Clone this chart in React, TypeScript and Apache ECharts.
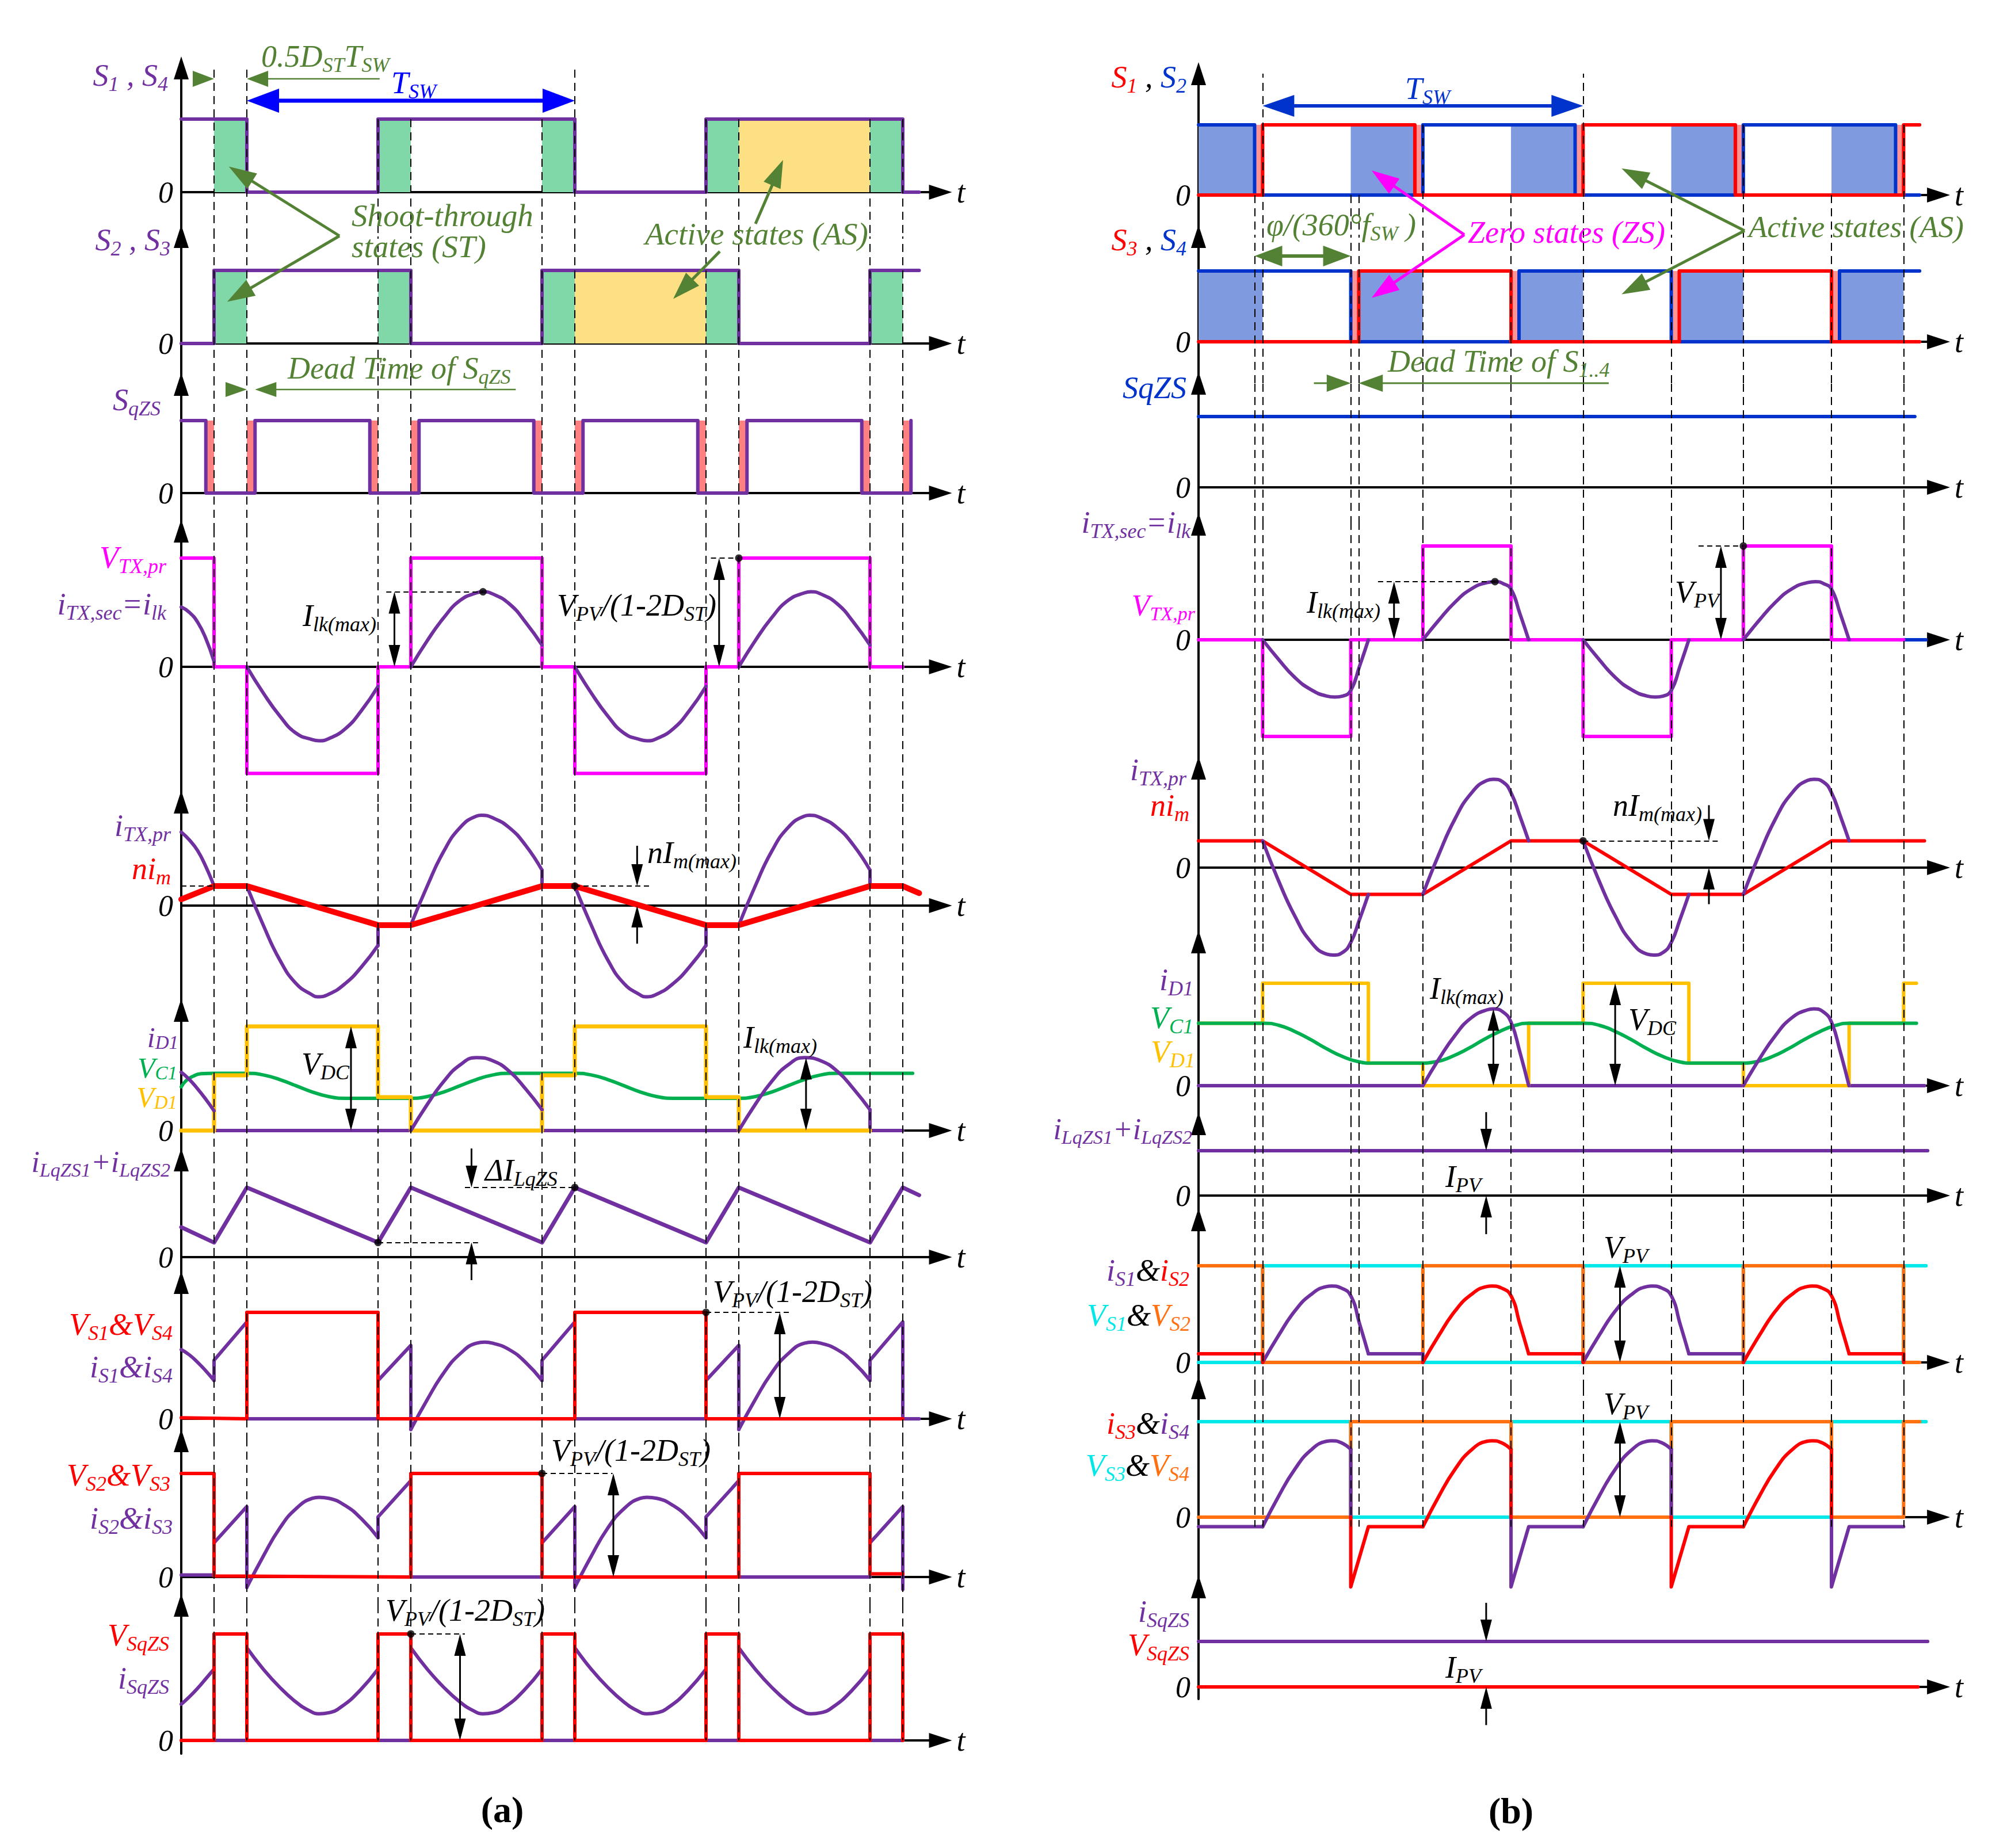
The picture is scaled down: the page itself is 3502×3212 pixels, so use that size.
import React, { useEffect, useRef } from 'react';
import * as echarts from 'echarts';

const FONT = "'Liberation Serif', 'DejaVu Serif', serif";
const PU = '#7030a0', MG = '#ff00ff', RD = '#ff0000', GN = '#00b050', YL = '#ffc000', OL = '#548235';
const BA = '#0000ff', BB = '#0033cc', CY = '#00e8e8', OR = '#ff7010', BK = '#000000';
const ST_FILL = '#80d8a8', AS_FILL = '#fde083', DT_FILL = '#ff8080', ZS_FILL = '#809ae0', DT_FILL_B = '#ff9494';

// ---------- layout (pixels) ----------
const LA = { x0: 315, unit: 28.5, xmax: 46.3, tips: [98, 391, 648, 903, 1374, 1736, 1996, 2209, 2484, 2770], zeros: [334, 597, 857, 1159, 1574, 1965, 2185, 2466, 2741, 3025], units: [127, 127, 126, 189, 154, 181, 121, 185, 180, 185], bottom: 3048 };
const LB = { x0: 2083, unit: 27.85, xmax: 46.18, tips: [108, 391, 646, 891, 1315, 1617, 1933, 2100, 2392, 2738], zeros: [339, 594, 847, 1112, 1508, 1887, 2078, 2368, 2637, 2932], units: [122, 123, 123, 163, 155, 178, 78, 168, 166, 79], bottom: 2953 };

// ---------- panel (a) data ----------
const A_VLINES = [2, 4, 12, 14, 22, 24, 32, 34, 42, 44];
const A_VLINES_TOP = [2, 4, 24];
const A_ST = [[2, 4], [12, 14], [22, 24], [32, 34], [42, 44]];
const A_AS1 = [[34, 42]];
const A_AS2 = [[24, 32]];
const A_DEAD = [[1.55, 2], [4, 4.45], [11.55, 12], [14, 14.45], [21.55, 22], [24, 24.45], [31.55, 32], [34, 34.45], [41.55, 42], [44, 44.45]];

const A_S14 = [[0, 1], [4, 1], [4, 0], [12, 0], [12, 1], [24, 1], [24, 0], [32, 0], [32, 1], [44, 1], [44, 0], [45, 0]];
const A_S23 = [[0, 0], [2, 0], [2, 1], [14, 1], [14, 0], [22, 0], [22, 1], [34, 1], [34, 0], [42, 0], [42, 1], [45, 1]];
const A_SQZS = [[0, 1], [1.5, 1], [1.5, 0], [4.5, 0], [4.5, 1], [11.5, 1], [11.5, 0], [14.5, 0], [14.5, 1], [21.5, 1], [21.5, 0], [24.5, 0], [24.5, 1], [31.5, 1], [31.5, 0], [34.5, 0], [34.5, 1], [41.5, 1], [41.5, 0], [44.5, 0], [44.5, 1]];

const A_VTX = [[0, 1], [2, 1], [2, 0], [4, 0], [4, -0.98], [12, -0.98], [12, 0], [14, 0], [14, 1], [22, 1], [22, 0], [24, 0], [24, -0.98], [32, -0.98], [32, 0], [34, 0], [34, 1], [42, 1], [42, 0], [44, 0]];
const A_ITXSEC_STEPS = [[[12, -0.18], [12, 0], [14, 0]], [[22, 0.2], [22, 0], [24, 0]], [[32, -0.18], [32, 0], [34, 0]], [[42, 0.2], [42, 0], [44, 0]]];
const A_ITXSEC_ARCS = [
  [[0, 0.55], [0.5, 0.5], [1, 0.41], [1.5, 0.26], [2, 0.05]],
  [[4, 0], [5, -0.24], [6, -0.45], [7, -0.61], [8, -0.67], [8.4, -0.68], [9, -0.66], [10, -0.57], [11, -0.4], [12, -0.18]],
  [[14, 0], [15, 0.24], [16, 0.45], [17, 0.61], [18, 0.68], [18.4, 0.69], [19, 0.67], [20, 0.58], [21, 0.41], [22, 0.2]],
  [[24, 0], [25, -0.24], [26, -0.45], [27, -0.61], [28, -0.67], [28.4, -0.68], [29, -0.66], [30, -0.57], [31, -0.4], [32, -0.18]],
  [[34, 0], [35, 0.24], [36, 0.45], [37, 0.61], [38, 0.68], [38.4, 0.69], [39, 0.67], [40, 0.58], [41, 0.41], [42, 0.2]],
];

const A_NIM = [[0, 0.07], [2, 0.22], [4, 0.22], [12, -0.22], [14, -0.22], [22, 0.22], [24, 0.22], [32, -0.22], [34, -0.22], [42, 0.22], [44, 0.22], [45, 0.14]];
const A_ITXPR_STEPS = [[[12, -0.45], [12, -0.22]], [[22, 0.4], [22, 0.22]], [[32, -0.45], [32, -0.22]], [[42, 0.4], [42, 0.22]]];
const A_ITXPR_ARCS = [
  [[0, 0.83], [0.5, 0.74], [1, 0.62], [1.5, 0.44], [2, 0.22]],
  [[4, 0.22], [5, -0.22], [6, -0.61], [7, -0.88], [8, -1.01], [8.3, -1.03], [9, -1.0], [10, -0.88], [11, -0.69], [12, -0.45]],
  [[14, -0.22], [15, 0.22], [16, 0.61], [17, 0.88], [18, 1.01], [18.3, 1.02], [19, 0.99], [20, 0.88], [21, 0.68], [22, 0.4]],
  [[24, 0.22], [25, -0.22], [26, -0.61], [27, -0.88], [28, -1.01], [28.3, -1.03], [29, -1.0], [30, -0.88], [31, -0.69], [32, -0.45]],
  [[34, -0.22], [35, 0.22], [36, 0.61], [37, 0.88], [38, 1.01], [38.3, 1.02], [39, 0.99], [40, 0.88], [41, 0.68], [42, 0.4]],
];

const A_VD1 = [[0, 0], [2, 0], [2, 0.53], [4, 0.53], [4, 1], [12, 1], [12, 0.32], [14, 0.32], [14, 0], [22, 0], [22, 0.53], [24, 0.53], [24, 1], [32, 1], [32, 0.32], [34, 0.32], [34, 0], [42, 0]];
const A_VC1 = [[0, 0.42], [0.3, 0.48], [0.7, 0.52], [1.2, 0.545], [2, 0.55], [4, 0.55], [5, 0.534], [6, 0.49], [7, 0.43], [8, 0.37], [9, 0.326], [10, 0.31], [14, 0.31], [15, 0.326], [16, 0.37], [17, 0.43], [18, 0.49], [19, 0.534], [20, 0.55], [24, 0.55], [25, 0.534], [26, 0.49], [27, 0.43], [28, 0.37], [29, 0.326], [30, 0.31], [34, 0.31], [35, 0.326], [36, 0.37], [37, 0.43], [38, 0.49], [39, 0.534], [40, 0.55], [44.6, 0.55]];
const A_ID1_STEPS = [[[2, 0.19], [2, 0], [14, 0]], [[22, 0.2], [22, 0], [34, 0]], [[42, 0.2], [42, 0], [44, 0]]];
const A_ID1_ARCS = [
  [[0, 0.56], [0.5, 0.49], [1, 0.4], [1.5, 0.3], [2, 0.19]],
  [[14, 0], [15, 0.25], [16, 0.47], [17, 0.63], [18, 0.7], [19, 0.67], [20, 0.57], [21, 0.4], [22, 0.2]],
  [[34, 0], [35, 0.25], [36, 0.47], [37, 0.63], [38, 0.7], [39, 0.67], [40, 0.57], [41, 0.4], [42, 0.2]],
];

const A_ILQZS = [[0, 0.43], [2, 0.21], [4, 1], [12, 0.21], [14, 1], [22, 0.21], [24, 1], [32, 0.21], [34, 1], [42, 0.21], [44, 1], [45, 0.89]];

const A_VS14 = [[0, 0.01], [4, 0], [4, 1], [12, 1], [12, 0], [24, 0], [24, 1], [32, 1], [32, 0], [44, 0]];
const A_IS14_STEPS = [
  [[2, 0.36], [2, 0.55], [4, 0.91], [4, 0], [12, 0], [12, 0.36], [14, 0.69], [14, -0.1]],
  [[22, 0.36], [22, 0.55], [24, 0.91], [24, 0], [32, 0], [32, 0.36], [34, 0.69], [34, -0.1]],
  [[42, 0.36], [42, 0.55], [44, 0.91], [44, 0], [45, 0]],
];
const A_IS14_ARCS = [
  [[0, 0.65], [0.5, 0.6], [1, 0.53], [1.5, 0.45], [2, 0.36]],
  [[14, -0.1], [15, 0.18], [16, 0.43], [17, 0.61], [18, 0.71], [18.5, 0.72], [19, 0.71], [20, 0.65], [21, 0.53], [22, 0.36]],
  [[34, -0.1], [35, 0.18], [36, 0.43], [37, 0.61], [38, 0.71], [38.5, 0.72], [39, 0.71], [40, 0.65], [41, 0.53], [42, 0.36]],
];

const A_VS23 = [[0, 1], [2, 1], [2, 0.01], [14, 0], [14, 1], [22, 1], [22, 0], [34, 0], [34, 1], [42, 1], [42, 0.03], [44, 0.03]];
const A_IS23_STEPS = [
  [[0, 0.02], [2, 0.02], [2, 0.33], [4, 0.68], [4, -0.1]],
  [[12, 0.38], [12, 0.58], [14, 0.93], [14, 0], [22, 0], [22, 0.33], [24, 0.68], [24, -0.1]],
  [[32, 0.38], [32, 0.58], [34, 0.93], [34, 0], [42, 0], [42, 0.33], [44, 0.68], [44, -0.12]],
];
const A_IS23_ARCS = [
  [[4, -0.1], [5, 0.2], [6, 0.47], [7, 0.66], [8, 0.76], [8.4, 0.77], [9, 0.76], [10, 0.69], [11, 0.56], [12, 0.38]],
  [[24, -0.1], [25, 0.2], [26, 0.47], [27, 0.66], [28, 0.76], [28.4, 0.77], [29, 0.76], [30, 0.69], [31, 0.56], [32, 0.38]],
];

const A_VSQZS = [[0, 0], [2, 0], [2, 1], [4, 1], [4, 0], [12, 0], [12, 1], [14, 1], [14, 0], [22, 0], [22, 1], [24, 1], [24, 0], [32, 0], [32, 1], [34, 1], [34, 0], [42, 0], [42, 1], [44, 1], [44, 0]];
const A_ISQZS_STEPS = [[[2, 0.67], [2, 0], [4, 0], [4, 0.87]], [[12, 0.67], [12, 0], [14, 0], [14, 0.87]], [[22, 0.67], [22, 0], [24, 0], [24, 0.87]], [[32, 0.67], [32, 0], [34, 0], [34, 0.87]], [[42, 0.67], [42, 0], [44, 0], [44, 0.87]]];
const A_ISQZS_ARCS = [
  [[0, 0.34], [0.5, 0.41], [1, 0.49], [1.5, 0.58], [2, 0.67]],
  [[4, 0.87], [5, 0.67], [6, 0.5], [7, 0.36], [7.8, 0.28], [8.4, 0.25], [9, 0.26], [9.8, 0.32], [10.9, 0.47], [12, 0.67]],
  [[14, 0.87], [15, 0.67], [16, 0.5], [17, 0.36], [17.8, 0.28], [18.4, 0.25], [19, 0.26], [19.8, 0.32], [20.9, 0.47], [22, 0.67]],
  [[24, 0.87], [25, 0.67], [26, 0.5], [27, 0.36], [27.8, 0.28], [28.4, 0.25], [29, 0.26], [29.8, 0.32], [30.9, 0.47], [32, 0.67]],
  [[34, 0.87], [35, 0.67], [36, 0.5], [37, 0.36], [37.8, 0.28], [38.4, 0.25], [39, 0.26], [39.8, 0.32], [40.9, 0.47], [42, 0.67]],
];

// annotations (a): [row, t, v] / [row, t1, t2, v] / [row, t, vFrom, vTo]
const A_DOTS = [[3, 18.4, 0.69], [3, 34, 1], [4, 24, 0.22], [6, 12, 0.21], [6, 24, 1], [7, 32, 1], [8, 22, 1], [9, 14, 1]];
const A_HDASH = [[3, 12.5, 18.4, 0.69], [3, 32.3, 34, 1], [4, 0, 2, 0.22], [4, 24, 28.6, 0.22], [6, 12, 18.1, 0.21], [6, 17.3, 24, 1], [7, 32, 37.2, 1], [8, 22, 26.3, 1], [9, 14, 17.3, 1]];
const A_DARROWS = [[3, 13, 0, 0.69], [3, 32.8, 0, 1], [5, 10.35, 0, 1], [5, 38.1, 0, 0.7], [7, 36.5, 0, 1], [8, 26.35, 0, 1], [9, 17, 0, 1]];
const A_SARROWS = [[4, 27.8, 0.675, 0.22], [4, 27.8, -0.43, 0], [6, 17.7, 1.56, 1.0], [6, 17.7, -0.33, 0.21]];

// ---------- panel (b) data ----------
const B_VLINES = [3.5, 4, 9.5, 10, 14, 19.5, 24, 29.5, 34, 39.5, 44];
const B_VLINES_TOP = [4, 24];
const B_VLINES_HIGH = [14, 34, 44];
const B_ZS1 = [[0, 3.5], [9.5, 13.5], [19.5, 23.5], [29.5, 33.5], [39.5, 43.5]];
const B_DT1 = [[3.5, 4], [13.5, 14], [23.5, 24], [33.5, 34], [43.5, 44]];
const B_ZS2 = [[0, 4], [10, 14], [20, 24], [30, 34], [40, 44]];
const B_DT2 = [[9.5, 10], [19.5, 20], [29.5, 30], [39.5, 40]];

const B_S1 = [[0, 0], [4, 0], [4, 1], [13.5, 1], [13.5, 0], [24, 0], [24, 1], [33.5, 1], [33.5, 0], [44, 0], [44, 1], [45, 1]];
const B_S2 = [[0, 1], [3.5, 1], [3.5, 0], [14, 0], [14, 1], [23.5, 1], [23.5, 0], [34, 0], [34, 1], [43.5, 1], [43.5, 0], [45, 0]];
const B_S3 = [[0, 0], [10, 0], [10, 1], [19.5, 1], [19.5, 0], [30, 0], [30, 1], [39.5, 1], [39.5, 0], [45, 0]];
const B_S4 = [[0, 1], [9.5, 1], [9.5, 0], [20, 0], [20, 1], [29.5, 1], [29.5, 0], [40, 0], [40, 1], [45, 1]];
const B_SQZS = [[0, 1], [44.7, 1]];

const B_VTX = [[0, 0], [4, 0], [4, -1.03], [9.5, -1.03], [9.5, 0], [14, 0], [14, 1], [19.5, 1], [19.5, 0], [24, 0], [24, -1.03], [29.5, -1.03], [29.5, 0], [34, 0], [34, 1], [39.5, 1], [39.5, 0], [44, 0]];
const B_ITXSEC_ARCS = [
  [[4, 0], [5, -0.21], [6, -0.4], [7, -0.53], [8, -0.6], [8.5, -0.61], [9, -0.6], [9.5, -0.54], [10.05, -0.28], [10.6, 0]],
  [[14, 0], [15, 0.21], [16, 0.4], [17, 0.54], [18, 0.61], [18.5, 0.62], [19, 0.6], [19.5, 0.54], [20.05, 0.28], [20.6, 0]],
  [[24, 0], [25, -0.21], [26, -0.4], [27, -0.53], [28, -0.6], [28.5, -0.61], [29, -0.6], [29.5, -0.54], [30.05, -0.28], [30.6, 0]],
  [[34, 0], [35, 0.21], [36, 0.4], [37, 0.54], [38, 0.61], [38.5, 0.62], [39, 0.6], [39.5, 0.54], [40.05, 0.28], [40.6, 0]],
];
const B_ITXSEC_TAIL = [[40.6, 0], [45.4, 0]];

const B_NIM = [[0, 0.3], [4, 0.3], [9.5, -0.3], [14, -0.3], [19.5, 0.3], [24, 0.3], [29.5, -0.3], [34, -0.3], [39.5, 0.3], [45.3, 0.3]];
const B_ITXPR_ARCS = [
  [[4, 0.3], [5, -0.15], [6, -0.54], [7, -0.83], [8, -0.97], [8.4, -0.98], [9, -0.95], [9.5, -0.84], [10.05, -0.58], [10.6, -0.3]],
  [[14, -0.3], [15, 0.15], [16, 0.545], [17, 0.83], [18, 0.977], [18.4, 0.99], [19, 0.96], [19.5, 0.84], [20.05, 0.58], [20.6, 0.3]],
  [[24, 0.3], [25, -0.15], [26, -0.54], [27, -0.83], [28, -0.97], [28.4, -0.98], [29, -0.95], [29.5, -0.84], [30.05, -0.58], [30.6, -0.3]],
  [[34, -0.3], [35, 0.15], [36, 0.545], [37, 0.83], [38, 0.977], [38.4, 0.99], [39, 0.96], [39.5, 0.84], [40.05, 0.58], [40.6, 0.3]],
];

const B_VD1 = [[0, 0.61], [4, 0.61], [4, 1], [10.6, 1], [10.6, 0.22], [14, 0.22], [14, 0], [20.6, 0], [20.6, 0.61], [24, 0.61], [24, 1], [30.6, 1], [30.6, 0.22], [34, 0.22], [34, 0], [40.6, 0], [40.6, 0.61], [44, 0.61], [44, 1], [44.8, 1]];
const B_VC1 = [[0, 0.61], [4, 0.61], [5, 0.59], [6, 0.53], [7, 0.45], [8, 0.36], [9, 0.284], [10, 0.233], [10.8, 0.22], [13.8, 0.22], [14.8, 0.233], [15.8, 0.284], [16.8, 0.36], [17.8, 0.45], [18.8, 0.53], [19.8, 0.59], [20.6, 0.61], [24, 0.61], [25, 0.59], [26, 0.53], [27, 0.45], [28, 0.36], [29, 0.284], [30, 0.233], [30.8, 0.22], [33.8, 0.22], [34.8, 0.233], [35.8, 0.284], [36.8, 0.36], [37.8, 0.45], [38.8, 0.53], [39.8, 0.59], [40.6, 0.61], [44.8, 0.61]];
const B_ID1_STEPS = [[[0, 0], [14, 0]], [[20.6, 0], [34, 0]], [[40.6, 0], [45.3, 0]]];
const B_ID1_ARCS = [
  [[14, 0], [15, 0.26], [16, 0.49], [17, 0.66], [18, 0.74], [18.4, 0.75], [19, 0.72], [19.5, 0.62], [20.05, 0.33], [20.6, 0]],
  [[34, 0], [35, 0.26], [36, 0.49], [37, 0.66], [38, 0.74], [38.4, 0.75], [39, 0.72], [39.5, 0.62], [40.05, 0.33], [40.6, 0]],
];

const B_ILQZS = [[0, 1], [45.5, 1]];

const B_VS1 = [[0, 0], [4, 0], [4, 1], [14, 1], [14, 0], [24, 0], [24, 1], [34, 1], [34, 0], [44, 0], [44, 1], [45.4, 1]];
const B_VS2 = [[0, 1], [4, 1], [4, 0], [14, 0], [14, 1], [24, 1], [24, 0], [34, 0], [34, 1], [44, 1], [44, 0], [45, 0]];
const B_IS1_STEPS = [[[10.6, 0.09], [14, 0.09], [14, 0]], [[30.6, 0.09], [34, 0.09], [34, 0]]];
const B_IS1_ARCS = [
  [[4, 0], [5, 0.28], [6, 0.53], [7, 0.7], [8, 0.785], [8.3, 0.79], [8.9, 0.77], [9.5, 0.69], [10.05, 0.4], [10.6, 0.09]],
  [[24, 0], [25, 0.28], [26, 0.53], [27, 0.7], [28, 0.785], [28.3, 0.79], [28.9, 0.77], [29.5, 0.69], [30.05, 0.4], [30.6, 0.09]],
];
const B_IS2_STEPS = [[[0, 0.09], [4, 0.09], [4, 0]], [[20.6, 0.09], [24, 0.09], [24, 0]], [[40.6, 0.09], [44, 0.09], [44, 0]]];
const B_IS2_ARCS = [
  [[14, 0], [15, 0.28], [16, 0.53], [17, 0.7], [18, 0.785], [18.3, 0.79], [18.9, 0.77], [19.5, 0.69], [20.05, 0.4], [20.6, 0.09]],
  [[34, 0], [35, 0.28], [36, 0.53], [37, 0.7], [38, 0.785], [38.3, 0.79], [38.9, 0.77], [39.5, 0.69], [40.05, 0.4], [40.6, 0.09]],
];

const B_VS3 = [[0, 1], [9.5, 1], [9.5, 0], [19.5, 0], [19.5, 1], [29.5, 1], [29.5, 0], [39.5, 0], [39.5, 1], [45.4, 1]];
const B_VS4 = [[0, 0], [9.5, 0], [9.5, 1], [19.5, 1], [19.5, 0], [29.5, 0], [29.5, 1], [39.5, 1], [39.5, 0], [44, 0], [44, 1], [45, 1]];
const B_IS4_STEPS = [[[0, -0.1], [4, -0.1]], [[9.5, 0.71], [9.5, 0]], [[19.5, 0], [19.5, -0.73], [20.6, -0.1], [24, -0.1]], [[29.5, 0.71], [29.5, 0]], [[39.5, 0], [39.5, -0.73], [40.6, -0.1], [44, -0.1]]];
const B_IS4_ARCS = [
  [[4, -0.1], [5, 0.22], [6, 0.5], [7, 0.7], [8, 0.795], [8.3, 0.8], [8.9, 0.78], [9.5, 0.71]],
  [[24, -0.1], [25, 0.22], [26, 0.5], [27, 0.7], [28, 0.795], [28.3, 0.8], [28.9, 0.78], [29.5, 0.71]],
];
const B_IS3_STEPS = [[[9.5, 0], [9.5, -0.73], [10.6, -0.1], [14, -0.1]], [[19.5, 0.71], [19.5, 0]], [[29.5, 0], [29.5, -0.73], [30.6, -0.1], [34, -0.1]], [[39.5, 0.71], [39.5, 0]]];
const B_IS3_ARCS = [
  [[14, -0.1], [15, 0.22], [16, 0.5], [17, 0.7], [18, 0.795], [18.3, 0.8], [18.9, 0.78], [19.5, 0.71]],
  [[34, -0.1], [35, 0.22], [36, 0.5], [37, 0.7], [38, 0.795], [38.3, 0.8], [38.9, 0.78], [39.5, 0.71]],
];

const B_ISQZS = [[0, 1], [45.5, 1]];
const B_VSQZS = [[0, 0], [44.9, 0]];

const B_DOTS = [[3, 18.5, 0.62], [3, 34, 1], [4, 24, 0.3]];
const B_HDASH = [[3, 11.2, 18.5, 0.62], [3, 31.2, 34, 1], [4, 24, 32.4, 0.3]];
const B_DARROWS = [[3, 12.2, 0, 0.62], [3, 32.6, 0, 1], [5, 18.4, 0, 0.75], [5, 26, 0, 1], [7, 26.3, 0, 1], [8, 26.3, 0, 1]];
const B_SARROWS = [[4, 31.85, 0.7, 0.3], [4, 31.85, -0.41, 0], [6, 17.95, 1.86, 1], [6, 17.95, -0.86, 0], [9, 17.95, 1.85, 1], [9, 17.95, -0.84, 0]];

// ---------- traces ----------
type Tr = { g: number; c: string; d?: number[][]; parts?: number[][][]; s?: boolean; w?: number };
const TRACES: Tr[] = [
  { g: 0, c: PU, d: A_S14 },
  { g: 1, c: PU, d: A_S23 },
  { g: 2, c: PU, d: A_SQZS },
  { g: 3, c: PU, parts: A_ITXSEC_STEPS },
  { g: 3, c: MG, d: A_VTX },
  { g: 3, c: PU, parts: A_ITXSEC_ARCS, s: true },
  { g: 4, c: PU, parts: A_ITXPR_STEPS },
  { g: 4, c: PU, parts: A_ITXPR_ARCS, s: true },
  { g: 4, c: RD, d: A_NIM, w: 10 },
  { g: 5, c: PU, parts: A_ID1_STEPS },
  { g: 5, c: GN, d: A_VC1, s: true },
  { g: 5, c: YL, d: A_VD1, w: 7 },
  { g: 5, c: PU, parts: A_ID1_ARCS, s: true },
  { g: 6, c: PU, d: A_ILQZS, w: 7 },
  { g: 7, c: PU, parts: A_IS14_STEPS },
  { g: 7, c: PU, parts: A_IS14_ARCS, s: true },
  { g: 7, c: RD, d: A_VS14 },
  { g: 8, c: PU, parts: A_IS23_STEPS },
  { g: 8, c: PU, parts: A_IS23_ARCS, s: true },
  { g: 8, c: RD, d: A_VS23 },
  { g: 9, c: PU, parts: A_ISQZS_STEPS },
  { g: 9, c: PU, parts: A_ISQZS_ARCS, s: true },
  { g: 9, c: RD, d: A_VSQZS },

  { g: 10, c: BB, d: B_S2 },
  { g: 10, c: RD, d: B_S1 },
  { g: 11, c: BB, d: B_S4 },
  { g: 11, c: RD, d: B_S3 },
  { g: 12, c: BB, d: B_SQZS },
  { g: 13, c: BB, d: B_ITXSEC_TAIL },
  { g: 13, c: MG, d: B_VTX },
  { g: 13, c: PU, parts: B_ITXSEC_ARCS, s: true },
  { g: 14, c: RD, d: B_NIM },
  { g: 14, c: PU, parts: B_ITXPR_ARCS, s: true },
  { g: 15, c: PU, parts: B_ID1_STEPS },
  { g: 15, c: YL, d: B_VD1 },
  { g: 15, c: GN, d: B_VC1, s: true },
  { g: 15, c: PU, parts: B_ID1_ARCS, s: true },
  { g: 16, c: PU, d: B_ILQZS },
  { g: 17, c: CY, d: B_VS1 },
  { g: 17, c: OR, d: B_VS2 },
  { g: 17, c: PU, parts: B_IS1_STEPS },
  { g: 17, c: PU, parts: B_IS1_ARCS, s: true },
  { g: 17, c: RD, parts: B_IS2_STEPS },
  { g: 17, c: RD, parts: B_IS2_ARCS, s: true },
  { g: 18, c: CY, d: B_VS3 },
  { g: 18, c: OR, d: B_VS4 },
  { g: 18, c: PU, parts: B_IS4_STEPS },
  { g: 18, c: PU, parts: B_IS4_ARCS, s: true },
  { g: 18, c: RD, parts: B_IS3_STEPS },
  { g: 18, c: RD, parts: B_IS3_ARCS, s: true },
  { g: 19, c: PU, d: B_ISQZS },
  { g: 19, c: RD, d: B_VSQZS },
];

// ---------- texts ----------
type Part = [string, string, number?];
type Lbl = { p: Part[]; x: number; y: number; a?: string; f?: number; lh?: number };
const LABELS: Lbl[] = [
  { p: [['S', PU], ['1', PU, 1], [' , S', PU], ['4', PU, 1]], x: 292, y: 131 },
  { p: [['S', PU], ['2', PU, 1], [' , S', PU], ['3', PU, 1]], x: 296, y: 417 },
  { p: [['S', PU], ['qZS', PU, 1]], x: 279, y: 695 },
  { p: [['V', MG], ['TX,pr', MG, 1]], x: 289, y: 969 },
  { p: [['i', PU], ['TX,sec', PU, 1], ['=i', PU], ['lk', PU, 1]], x: 289, y: 1050 },
  { p: [['i', PU], ['TX,pr', PU, 1]], x: 297, y: 1435 },
  { p: [['ni', RD], ['m', RD, 1]], x: 297, y: 1510 },
  { p: [['i', PU], ['D1', PU, 1]], x: 310, y: 1803, f: 50, lh: 1.0 },
  { p: [['V', GN], ['C1', GN, 1]], x: 308, y: 1856, f: 50, lh: 1.0 },
  { p: [['V', YL], ['D1', YL, 1]], x: 308, y: 1907, f: 50, lh: 1.0 },
  { p: [['i', PU], ['LqZS1', PU, 1], ['+i', PU], ['LqZS2', PU, 1]], x: 296, y: 2019, f: 52 },
  { p: [['V', RD], ['S1', RD, 1], ['&V', RD], ['S4', RD, 1]], x: 300, y: 2302 },
  { p: [['i', PU], ['S1', PU, 1], ['&i', PU], ['S4', PU, 1]], x: 300, y: 2376 },
  { p: [['V', RD], ['S2', RD, 1], ['&V', RD], ['S3', RD, 1]], x: 296, y: 2564 },
  { p: [['i', PU], ['S2', PU, 1], ['&i', PU], ['S3', PU, 1]], x: 300, y: 2639 },
  { p: [['V', RD], ['SqZS', RD, 1]], x: 294, y: 2842 },
  { p: [['i', PU], ['SqZS', PU, 1]], x: 294, y: 2917 },

  { p: [['0.5D', OL], ['ST', OL, 1], ['T', OL], ['SW', OL, 1]], x: 454, y: 98, a: 'left' },
  { p: [['T', BA], ['SW', BA, 1]], x: 680, y: 144, a: 'left' },
  { p: [['Shoot-through', OL]], x: 611, y: 374, a: 'left', f: 55, lh: 0.9 },
  { p: [['states (ST)', OL]], x: 611, y: 428, a: 'left', f: 55, lh: 0.9 },
  { p: [['Active states (AS)', OL]], x: 1121, y: 406, a: 'left', f: 55, lh: 1.0 },
  { p: [['Dead Time of S', OL], ['qZS', OL, 1]], x: 500, y: 640, a: 'left' },
  { p: [['I', BK], ['lk(max)', BK, 1]], x: 526, y: 1070, a: 'left' },
  { p: [['V', BK], ['PV', BK, 1], ['/(1-2D', BK], ['ST', BK, 1], [')', BK]], x: 968, y: 1052, a: 'left' },
  { p: [['nI', BK], ['m(max)', BK, 1]], x: 1125, y: 1482, a: 'left' },
  { p: [['V', BK], ['DC', BK, 1]], x: 524, y: 1849, a: 'left' },
  { p: [['I', BK], ['lk(max)', BK, 1]], x: 1292, y: 1803, a: 'left' },
  { p: [['ΔI', BK], ['LqZS', BK, 1]], x: 843, y: 2034, a: 'left' },
  { p: [['V', BK], ['PV', BK, 1], ['/(1-2D', BK], ['ST', BK, 1], [')', BK]], x: 1239, y: 2245, a: 'left' },
  { p: [['V', BK], ['PV', BK, 1], ['/(1-2D', BK], ['ST', BK, 1], [')', BK]], x: 958, y: 2521, a: 'left' },
  { p: [['V', BK], ['PV', BK, 1], ['/(1-2D', BK], ['ST', BK, 1], [')', BK]], x: 670, y: 2799, a: 'left' },

  { p: [['S', RD], ['1', RD, 1], [' , ', BK], ['S', BB], ['2', BB, 1]], x: 2062, y: 134 },
  { p: [['S', RD], ['3', RD, 1], [' , ', BK], ['S', BB], ['4', BB, 1]], x: 2062, y: 417 },
  { p: [['SqZS', BB]], x: 2062, y: 674, lh: 1.0 },
  { p: [['i', PU], ['TX,sec', PU, 1], ['=i', PU], ['lk', PU, 1]], x: 2069, y: 908 },
  { p: [['V', MG], ['TX,pr', MG, 1]], x: 2077, y: 1052, f: 52 },
  { p: [['i', PU], ['TX,pr', PU, 1]], x: 2062, y: 1338 },
  { p: [['ni', RD], ['m', RD, 1]], x: 2067, y: 1400 },
  { p: [['i', PU], ['D1', PU, 1]], x: 2074, y: 1703 },
  { p: [['V', GN], ['C1', GN, 1]], x: 2074, y: 1769 },
  { p: [['V', YL], ['D1', YL, 1]], x: 2077, y: 1828 },
  { p: [['i', PU], ['LqZS1', PU, 1], ['+i', PU], ['LqZS2', PU, 1]], x: 2072, y: 1962, f: 52 },
  { p: [['i', PU], ['S1', PU, 1], ['&', BK], ['i', RD], ['S2', RD, 1]], x: 2067, y: 2208 },
  { p: [['V', CY], ['S1', CY, 1], ['&', BK], ['V', OR], ['S2', OR, 1]], x: 2069, y: 2286 },
  { p: [['i', RD], ['S3', RD, 1], ['&', BK], ['i', PU], ['S4', PU, 1]], x: 2067, y: 2474 },
  { p: [['V', CY], ['S3', CY, 1], ['&', BK], ['V', OR], ['S4', OR, 1]], x: 2067, y: 2547 },
  { p: [['i', PU], ['SqZS', PU, 1]], x: 2067, y: 2801 },
  { p: [['V', RD], ['SqZS', RD, 1]], x: 2067, y: 2859 },

  { p: [['T', BB], ['SW', BB, 1]], x: 2442, y: 154, a: 'left' },
  { p: [['φ/(360°f', OL], ['SW', OL, 1], [' )', OL]], x: 2201, y: 391, a: 'left' },
  { p: [['Zero states (ZS)', MG]], x: 2551, y: 404, a: 'left', f: 54, lh: 1.0 },
  { p: [['Active states (AS)', OL]], x: 3039, y: 394, a: 'left', f: 53, lh: 1.0 },
  { p: [['Dead Time of S', OL], ['1..4', OL, 1]], x: 2412, y: 628, a: 'left' },
  { p: [['I', BK], ['lk(max)', BK, 1]], x: 2271, y: 1047, a: 'left' },
  { p: [['V', BK], ['PV', BK, 1]], x: 2911, y: 1029, a: 'left' },
  { p: [['nI', BK], ['m(max)', BK, 1]], x: 2803, y: 1400, a: 'left' },
  { p: [['I', BK], ['lk(max)', BK, 1]], x: 2485, y: 1718, a: 'left' },
  { p: [['V', BK], ['DC', BK, 1]], x: 2830, y: 1772, a: 'left' },
  { p: [['I', BK], ['PV', BK, 1]], x: 2512, y: 2045, a: 'left' },
  { p: [['V', BK], ['PV', BK, 1]], x: 2787, y: 2168, a: 'left' },
  { p: [['V', BK], ['PV', BK, 1]], x: 2787, y: 2440, a: 'left' },
  { p: [['I', BK], ['PV', BK, 1]], x: 2512, y: 2898, a: 'left' },
];

function richText(l: Lbl) {
  const F = l.f || 54;
  const lh = l.lh || 1.2;
  const rich: any = {};
  let text = '';
  l.p.forEach((p, i) => {
    const sub = p[2] === 1;
    const fs = sub ? Math.round(F * 0.66) : F;
    rich['p' + i] = {
      fontSize: fs, fontFamily: FONT, fontStyle: 'italic', fill: p[1], color: p[1],
      lineHeight: sub ? Math.round(fs * 0.9) : Math.round(F * lh), verticalAlign: sub ? 'bottom' : 'middle',
    };
    text += '{p' + i + '|' + p[0] + '}';
  });
  return {
    type: 'text', x: l.x, y: l.y, z: 60, silent: true,
    style: { text, rich, align: l.a || 'right', verticalAlign: 'middle', fontSize: F, fontFamily: FONT, fontStyle: 'italic', fill: '#000' },
  };
}

function head(tip: number[], from: number[], L: number, Wd: number, color: string) {
  const dx = tip[0] - from[0], dy = tip[1] - from[1];
  const len = Math.hypot(dx, dy) || 1;
  const ux = dx / len, uy = dy / len;
  const bx = tip[0] - ux * L, by = tip[1] - uy * L;
  const nx = -uy * Wd / 2, ny = ux * Wd / 2;
  return { type: 'polygon', z: 55, silent: true, shape: { points: [[tip[0], tip[1]], [bx + nx, by + ny], [bx - nx, by - ny]] }, style: { fill: color } };
}
function seg(a: number[], b: number[], color: string, lw: number) {
  return { type: 'line', z: 55, silent: true, shape: { x1: a[0], y1: a[1], x2: b[0], y2: b[1] }, style: { stroke: color, lineWidth: lw } };
}
function arrow(from: number[], tip: number[], L: number, Wd: number, lw: number, color: string) {
  const dx = tip[0] - from[0], dy = tip[1] - from[1];
  const len = Math.hypot(dx, dy) || 1;
  const b = [tip[0] - dx / len * L * 0.7, tip[1] - dy / len * L * 0.7];
  return [seg(from, b, color, lw), head(tip, from, L, Wd, color)];
}
function dArrow(a: number[], b: number[], L: number, Wd: number, lw: number, color: string) {
  const dx = b[0] - a[0], dy = b[1] - a[1];
  const len = Math.hypot(dx, dy) || 1;
  const ux = dx / len, uy = dy / len;
  return [
    seg([a[0] + ux * L * 0.7, a[1] + uy * L * 0.7], [b[0] - ux * L * 0.7, b[1] - uy * L * 0.7], color, lw),
    head(a, b, L, Wd, color), head(b, a, L, Wd, color),
  ];
}

function buildOption() {
  const grid: any[] = [], xAxis: any[] = [], yAxis: any[] = [], series: any[] = [];
  const ranges: number[][] = [];
  const panels = [{ L: LA, off: 0 }, { L: LB, off: 10 }];
  panels.forEach(({ L, off }) => {
    for (let k = 0; k < 10; k++) {
      const top = L.tips[k] + 20;
      const bottom = k < 9 ? L.tips[k + 1] + 20 : L.bottom;
      const ymax = (L.zeros[k] - top) / L.units[k];
      const ymin = -(bottom - L.zeros[k]) / L.units[k];
      ranges[off + k] = [ymin, ymax];
      grid.push({ left: L.x0, top, width: L.xmax * L.unit, height: bottom - top, containLabel: false, outerBoundsMode: 'none' });
      xAxis.push({
        type: 'value', gridIndex: off + k, min: 0, max: L.xmax,
        axisLine: { show: true, onZero: true, lineStyle: { color: '#000', width: 4 }, symbol: ['none', 'triangle'], symbolSize: [26, 40] },
        axisTick: { show: false }, axisLabel: { show: false }, splitLine: { show: false },
        name: 't', nameLocation: 'end', nameGap: 28,
        nameTextStyle: { fontSize: 54, fontStyle: 'italic', fontFamily: FONT, color: '#000', verticalAlign: 'middle' },
      });
      yAxis.push({
        type: 'value', gridIndex: off + k, min: ymin, max: ymax,
        axisLine: { show: true, onZero: false, lineStyle: { color: '#000', width: 4 }, symbol: ['none', 'triangle'], symbolSize: [26, 40] },
        axisTick: { show: false }, splitLine: { show: false },
        axisLabel: {
          show: true, customValues: [0], formatter: (v: number) => (Math.abs(v) < 1e-9 ? '0' : ''),
          margin: 14, fontSize: 52, fontStyle: 'italic', fontFamily: FONT, color: '#000',
        },
      });
    }
  });

  const dash = { color: '#000', width: 2, type: [14, 9] };
  const area = (rs: number[][], color: string) => rs.map(([a, b]) => [{ coord: [a, 0], itemStyle: { color } }, { coord: [b, 1] }]);
  const markerData: any[][] = [];
  const areaData: any[][] = [];
  for (let g = 0; g < 20; g++) { markerData[g] = []; areaData[g] = []; }

  for (let k = 0; k < 10; k++) {
    const [mn, mx] = ranges[k];
    A_VLINES.forEach((t) => {
      if (k === 0 && A_VLINES_TOP.indexOf(t) < 0) markerData[k].push([{ coord: [t, 1] }, { coord: [t, mn] }]);
      else if (k === 9) markerData[k].push([{ coord: [t, mx] }, { coord: [t, 0] }]);
      else markerData[k].push({ xAxis: t });
    });
  }
  for (let k = 0; k < 9; k++) {
    const g = 10 + k;
    const [mn, mx] = ranges[g];
    B_VLINES.forEach((t) => {
      if (k === 0) {
        if (B_VLINES_TOP.indexOf(t) >= 0) markerData[g].push({ xAxis: t });
        else if (B_VLINES_HIGH.indexOf(t) >= 0) markerData[g].push([{ coord: [t, 1] }, { coord: [t, mn] }]);
        else markerData[g].push([{ coord: [t, 0] }, { coord: [t, mn] }]);
      } else if (k === 8) markerData[g].push([{ coord: [t, mx] }, { coord: [t, -0.1] }]);
      else markerData[g].push({ xAxis: t });
    });
  }
  const hd = { color: '#000', width: 2, type: [9, 6] };
  A_HDASH.forEach(([r, t1, t2, v]) => markerData[r].push([{ coord: [t1, v], lineStyle: hd }, { coord: [t2, v] }]));
  B_HDASH.forEach(([r, t1, t2, v]) => markerData[10 + r].push([{ coord: [t1, v], lineStyle: hd }, { coord: [t2, v] }]));

  areaData[0] = [...area(A_ST, ST_FILL), ...area(A_AS1, AS_FILL)];
  areaData[1] = [...area(A_ST, ST_FILL), ...area(A_AS2, AS_FILL)];
  areaData[2] = area(A_DEAD, DT_FILL);
  areaData[10] = [...area(B_ZS1, ZS_FILL), ...area(B_DT1, DT_FILL_B)];
  areaData[11] = [...area(B_ZS2, ZS_FILL), ...area(B_DT2, DT_FILL_B)];

  for (let g = 0; g < 20; g++) {
    series.push({
      type: 'line', xAxisIndex: g, yAxisIndex: g, data: [[0, 0]], symbol: 'none', showSymbol: false, silent: true, z: 1,
      lineStyle: { width: 0, opacity: 0 },
      markLine: { silent: true, symbol: ['none', 'none'], label: { show: false }, lineStyle: dash, data: markerData[g], animation: false },
      markArea: { silent: true, label: { show: false }, itemStyle: { opacity: 1 }, data: areaData[g], animation: false },
    });
  }

  const addLine = (g: number, data: number[][], color: string, width: number, smooth: boolean) => {
    series.push({
      type: 'line', xAxisIndex: g, yAxisIndex: g, data, symbol: 'none', showSymbol: false, silent: true, z: 3, clip: false,
      smooth: smooth ? 0.5 : false,
      lineStyle: { color, width, join: 'round', cap: 'round' }, itemStyle: { color },
    });
  };
  TRACES.forEach((tr) => {
    const w = tr.w || 6;
    if (tr.d) addLine(tr.g, tr.d, tr.c, w, !!tr.s);
    if (tr.parts) tr.parts.forEach((p) => addLine(tr.g, p, tr.c, w, !!tr.s));
  });

  const dotByGrid: Record<number, number[][]> = {};
  A_DOTS.forEach(([r, t, v]) => { (dotByGrid[r] = dotByGrid[r] || []).push([t, v]); });
  B_DOTS.forEach(([r, t, v]) => { (dotByGrid[10 + r] = dotByGrid[10 + r] || []).push([t, v]); });
  Object.keys(dotByGrid).forEach((k) => {
    const g = Number(k);
    series.push({ type: 'scatter', xAxisIndex: g, yAxisIndex: g, data: dotByGrid[g], symbol: 'circle', symbolSize: 13, itemStyle: { color: '#000' }, z: 6, silent: true });
  });

  return { animation: false, backgroundColor: '#ffffff', grid, xAxis, yAxis, series };
}

function buildGraphic(chart: any) {
  const P = (g: number, t: number, v: number): number[] => chart.convertToPixel({ gridIndex: g }, [t, v]);
  const X = (g: number, t: number) => P(g, t, 0)[0];
  const els: any[] = [];
  LABELS.forEach((l) => els.push(richText(l)));
  els.push({ type: 'text', x: 873, y: 3145, z: 60, silent: true, style: { text: '(a)', fontSize: 64, fontWeight: 'bold', fontFamily: FONT, fill: '#000', align: 'center', verticalAlign: 'middle' } });
  els.push({ type: 'text', x: 2626, y: 3147, z: 60, silent: true, style: { text: '(b)', fontSize: 64, fontWeight: 'bold', fontFamily: FONT, fill: '#000', align: 'center', verticalAlign: 'middle' } });

  A_DARROWS.forEach(([r, t, a, b]) => els.push(...dArrow(P(r, t, a), P(r, t, b), 38, 20, 3, BK)));
  B_DARROWS.forEach(([r, t, a, b]) => els.push(...dArrow(P(10 + r, t, a), P(10 + r, t, b), 38, 20, 3, BK)));
  A_SARROWS.forEach(([r, t, a, b]) => els.push(...arrow(P(r, t, a), P(r, t, b), 38, 20, 3, BK)));
  B_SARROWS.forEach(([r, t, a, b]) => els.push(...arrow(P(10 + r, t, a), P(10 + r, t, b), 38, 20, 3, BK)));

  els.push(head([X(0, 2), 137], [X(0, 0.7), 137], X(0, 2) - X(0, 0.7), 28, OL));
  els.push(head([X(0, 4), 137], [X(0, 5.3), 137], X(0, 5.3) - X(0, 4), 28, OL));
  els.push(seg([X(0, 5.2), 137], [X(0, 12.1), 137], OL, 2.5));
  els.push(...dArrow([X(0, 4), 175], [X(0, 24), 175], 56, 42, 7, BA));
  els.push(...arrow([590, 410], P(0, 2.9, 0.35), 48, 32, 5, OL));
  els.push(...arrow([590, 410], P(1, 2.8, 0.57), 48, 32, 5, OL));
  els.push(...arrow([1313, 389], P(0, 36.7, 0.44), 48, 32, 5, OL));
  els.push(...arrow([1251, 437], P(1, 30, 0.61), 48, 32, 5, OL));
  els.push(head([X(2, 4), 677], [X(2, 2.7), 677], X(2, 4) - X(2, 2.7), 26, OL));
  els.push(head([X(2, 4.5), 677], [X(2, 5.8), 677], X(2, 5.8) - X(2, 4.5), 26, OL));
  els.push(seg([X(2, 5.7), 677], [X(2, 20.4), 677], OL, 2.5));

  els.push(...dArrow([X(10, 4), 184], [X(10, 24), 184], 55, 38, 6, BB));
  els.push(...dArrow([X(11, 3.5), 445], [X(11, 9.5), 445], 48, 36, 6, OL));
  els.push(...arrow([2545, 408], P(10, 10.8, 0.35), 48, 32, 5, MG));
  els.push(...arrow([2545, 408], P(11, 10.8, 0.62), 48, 32, 5, MG));
  els.push(...arrow([3032, 401], P(10, 26.4, 0.38), 48, 32, 5, OL));
  els.push(...arrow([3032, 401], P(11, 26.4, 0.67), 48, 32, 5, OL));
  els.push(seg([X(12, 7.2), 666], [X(12, 8.2), 666], OL, 3));
  els.push(head([X(12, 9.5), 666], [X(12, 8.0), 666], X(12, 9.5) - X(12, 8.0), 30, OL));
  els.push(head([X(12, 10), 666], [X(12, 11.5), 666], X(12, 11.5) - X(12, 10), 30, OL));
  els.push(seg([X(12, 11.4), 666], [X(12, 25.6), 666], OL, 3));
  return els;
}

export default function App() {
  const ref = useRef<HTMLDivElement>(null);
  useEffect(() => {
    if (!ref.current) return;
    const chart = echarts.init(ref.current, undefined, { renderer: 'svg', width: 3502, height: 3212 });
    chart.setOption(buildOption() as any);
    chart.setOption({ graphic: buildGraphic(chart) } as any);
    return () => chart.dispose();
  }, []);
  return <div ref={ref} style={{ position: 'absolute', left: 0, top: 0, width: 3502, height: 3212, background: '#fff' }} />;
}
